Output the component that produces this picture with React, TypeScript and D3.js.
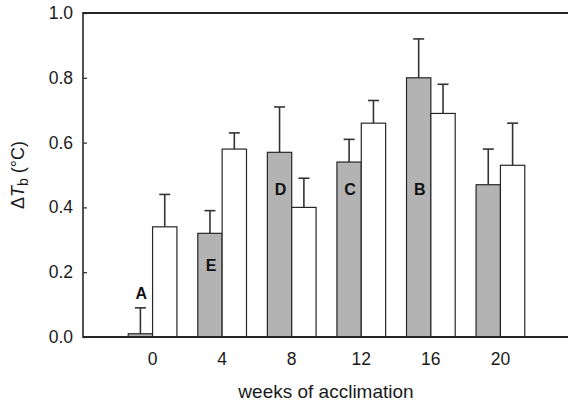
import React, { useRef, useEffect } from 'react';
import * as d3 from 'd3';

const weeks = [0, 4, 8, 12, 16, 20];
const grayMeans = [0.01, 0.32, 0.57, 0.54, 0.8, 0.47];
const grayErr = [0.08, 0.07, 0.14, 0.07, 0.12, 0.11];
const whiteMeans = [0.34, 0.58, 0.4, 0.66, 0.69, 0.53];
const whiteErr = [0.1, 0.05, 0.09, 0.07, 0.09, 0.13];
const letters = ['A', 'E', 'D', 'C', 'B', ''];
const letterPos = [0.135, 0.22, 0.455, 0.455, 0.455, 0];
const yTicks = [0, 0.2, 0.4, 0.6, 0.8, 1.0];

export default function App() {
  const svgRef = useRef<SVGSVGElement>(null);

  useEffect(() => {
    const svg = d3.select(svgRef.current);
    svg.selectAll('*').remove();

    const W = 568;
    const H = 407;
    const left = 83;
    const top = 13;
    const bottom = 337;

    const x = d3.scaleLinear().domain([-4, 24]).range([left, 570]);
    const y = d3.scaleLinear().domain([0, 1]).range([bottom, top]);
    const bw = x(1.4) - x(0);
    const ink = '#262626';
    const font = 'Liberation Sans, Arial, sans-serif';

    svg.attr('width', W).attr('height', H);

    // bars: gray left of the tick, white right of it
    const groups = [
      { means: grayMeans, errs: grayErr, fill: '#b3b3b3', off: -bw },
      { means: whiteMeans, errs: whiteErr, fill: '#ffffff', off: 0 },
    ];
    groups.forEach(g => {
      const gg = svg.append('g');
      // error bars drawn first so the bar covers the stem
      weeks.forEach((w, i) => {
        const cx = x(w) + g.off + bw / 2;
        gg.append('line')
          .attr('x1', cx).attr('x2', cx)
          .attr('y1', y(g.means[i])).attr('y2', y(g.means[i] + g.errs[i]))
          .attr('stroke', '#333').attr('stroke-width', 1.6);
        gg.append('line')
          .attr('x1', cx - 5.5).attr('x2', cx + 5.5)
          .attr('y1', y(g.means[i] + g.errs[i])).attr('y2', y(g.means[i] + g.errs[i]))
          .attr('stroke', '#333').attr('stroke-width', 1.6);
      });
      gg.selectAll('rect')
        .data(weeks)
        .enter().append('rect')
        .attr('x', w => x(w) + g.off)
        .attr('y', (w, i) => y(g.means[i]))
        .attr('width', bw)
        .attr('height', (w, i) => bottom - y(g.means[i]))
        .attr('fill', g.fill)
        .attr('stroke', ink)
        .attr('stroke-width', 1.2);
    });

    // letters
    svg.append('g')
      .selectAll('text')
      .data(weeks)
      .enter().append('text')
      .attr('x', w => x(w) - bw / 2 + 1)
      .attr('y', (w, i) => y(letterPos[i]))
      .attr('text-anchor', 'middle')
      .attr('dominant-baseline', 'central')
      .style('font-family', font)
      .style('font-weight', '700')
      .style('font-size', '16px')
      .style('fill', '#111')
      .text((w, i) => letters[i]);

    // axes lines
    svg.append('line')
      .attr('x1', left).attr('x2', W).attr('y1', top).attr('y2', top)
      .attr('stroke', ink).attr('stroke-width', 2);
    svg.append('line')
      .attr('x1', left).attr('x2', W).attr('y1', bottom).attr('y2', bottom)
      .attr('stroke', ink).attr('stroke-width', 2);
    svg.append('line')
      .attr('x1', left).attr('x2', left).attr('y1', top - 1).attr('y2', bottom + 1)
      .attr('stroke', ink).attr('stroke-width', 1.6);

    // Y axis ticks (inward)
    const yAxis = svg.append('g')
      .attr('transform', `translate(${left},0)`)
      .call(d3.axisRight(y).tickValues(yTicks).tickSize(4).tickFormat(() => ''));
    yAxis.select('.domain').remove();
    yAxis.selectAll('line').attr('stroke', ink).attr('stroke-width', 1.2);

    svg.append('g')
      .selectAll('text')
      .data(yTicks)
      .enter().append('text')
      .attr('x', 73)
      .attr('y', d => y(d))
      .attr('text-anchor', 'end')
      .attr('dominant-baseline', 'central')
      .style('font-family', font)
      .style('font-size', '17.5px')
      .style('fill', '#1a1a1a')
      .text(d => d3.format('.1f')(d));

    // X tick labels
    svg.append('g')
      .selectAll('text')
      .data(weeks)
      .enter().append('text')
      .attr('x', w => x(w))
      .attr('y', 359)
      .attr('text-anchor', 'middle')
      .attr('dominant-baseline', 'central')
      .style('font-family', font)
      .style('font-size', '17.5px')
      .style('fill', '#1a1a1a')
      .text(w => String(w));

    // X label
    svg.append('text')
      .attr('x', 326)
      .attr('y', 398)
      .attr('text-anchor', 'middle')
      .style('font-family', font)
      .style('font-size', '19px')
      .style('fill', '#1a1a1a')
      .text('weeks of acclimation');

    // Y label
    const yl = svg.append('text')
      .attr('transform', `translate(24,${(top + bottom) / 2}) rotate(-90)`)
      .attr('text-anchor', 'middle')
      .style('font-family', font)
      .style('font-size', '18px')
      .style('fill', '#1a1a1a');
    yl.append('tspan').text('Δ');
    yl.append('tspan').style('font-style', 'italic').text('T');
    yl.append('tspan').attr('dy', 4).style('font-size', '14px').text('b');
    yl.append('tspan').attr('dy', -4).text(' (°C)');
  }, []);

  return (
    <div style={{ position: 'absolute', left: 0, top: 0, width: 568, height: 407, background: '#fff' }}>
      <svg ref={svgRef} style={{ display: 'block' }} />
    </div>
  );
}
